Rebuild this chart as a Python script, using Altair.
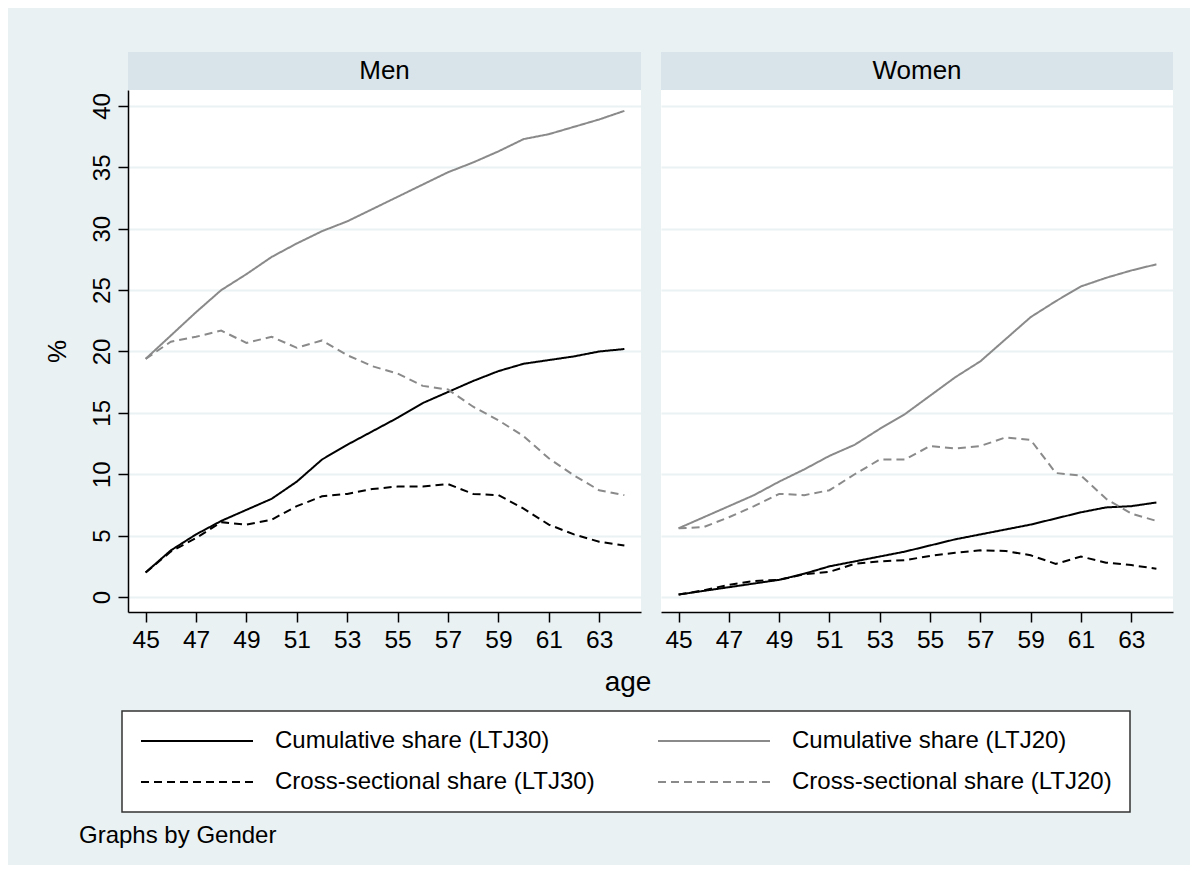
import altair as alt
import pandas as pd

FONT = "Liberation Sans"
BG = "#EAF1F3"
STRIP = "#D9E4EA"
GRID = "#EAF2F3"
GREY = "#8A8A8A"

ages = list(range(45, 65))
# legend fills column by column: first column LTJ30, second column LTJ20
series_names = [
    "Cumulative share (LTJ30)",
    "Cross-sectional share (LTJ30)",
    "Cumulative share (LTJ20)",
    "Cross-sectional share (LTJ20)",
]
series_colors = ["black", "black", GREY, GREY]
series_dashes = [[1, 0], [8, 5], [1, 0], [8, 5]]
genders = ["Men", "Women"]
x_ticks = [45, 47, 49, 51, 53, 55, 57, 59, 61, 63]
y_ticks = [0, 5, 10, 15, 20, 25, 30, 35, 40]

men_cum_ltj30 = [2.0, 3.8, 5.1, 6.2, 7.1, 8.0, 9.4, 11.2, 12.4, 13.5, 14.6, 15.8, 16.7, 17.6, 18.4, 19.0, 19.3, 19.6, 20.0, 20.2]
men_cum_ltj20 = [19.4, 21.3, 23.2, 25.0, 26.3, 27.7, 28.8, 29.8, 30.6, 31.6, 32.6, 33.6, 34.6, 35.4, 36.3, 37.3, 37.7, 38.3, 38.9, 39.6]
men_cross_ltj30 = [2.0, 3.7, 4.8, 6.1, 5.9, 6.3, 7.4, 8.2, 8.4, 8.8, 9.0, 9.0, 9.2, 8.4, 8.3, 7.2, 5.9, 5.1, 4.5, 4.2]
men_cross_ltj20 = [19.4, 20.8, 21.2, 21.7, 20.7, 21.2, 20.3, 20.9, 19.7, 18.8, 18.2, 17.2, 16.9, 15.5, 14.4, 13.1, 11.3, 9.9, 8.7, 8.3]

women_cum_ltj30 = [0.2, 0.5, 0.8, 1.1, 1.4, 1.9, 2.5, 2.9, 3.3, 3.7, 4.2, 4.7, 5.1, 5.5, 5.9, 6.4, 6.9, 7.3, 7.4, 7.7]
women_cum_ltj20 = [5.6, 6.5, 7.4, 8.3, 9.4, 10.4, 11.5, 12.4, 13.7, 14.9, 16.4, 17.9, 19.2, 21.0, 22.8, 24.1, 25.3, 26.0, 26.6, 27.1]
women_cross_ltj30 = [0.2, 0.55, 1.0, 1.3, 1.4, 1.85, 2.05, 2.7, 2.9, 3.0, 3.35, 3.6, 3.8, 3.75, 3.4, 2.7, 3.3, 2.8, 2.6, 2.3]
women_cross_ltj20 = [5.6, 5.7, 6.5, 7.4, 8.4, 8.3, 8.7, 10.0, 11.2, 11.2, 12.3, 12.1, 12.3, 13.0, 12.8, 10.1, 9.9, 8.0, 6.8, 6.2]

values = {
    "Men": [men_cum_ltj30, men_cross_ltj30, men_cum_ltj20, men_cross_ltj20],
    "Women": [women_cum_ltj30, women_cross_ltj30, women_cum_ltj20, women_cross_ltj20],
}

rows = []
for g in genders:
    for name, vals in zip(series_names, values[g]):
        for a, v in zip(ages, vals):
            rows.append({"gender": g, "age": a, "value": v, "series": name})
df = pd.DataFrame(rows)

color_scale = alt.Scale(domain=series_names, range=series_colors)
dash_scale = alt.Scale(domain=series_names, range=series_dashes)
x_scale = alt.Scale(domain=[44.3, 64.66], nice=False, zero=False)
y_scale = alt.Scale(domain=[-1.22, 41.3], nice=False, zero=False)

PLOT_H = 522
widths = {"Men": 513, "Women": 512}


def panel(g, first):
    w = widths[g]
    xaxis = alt.Axis(values=x_ticks, format="d", title=None, grid=False,
                     labelFont=FONT, labelFontSize=24.5, labelColor="black",
                     tickSize=10, tickColor="black", tickWidth=1.5,
                     domainColor="black", domainWidth=1.5, labelPadding=6,
                     labelFlush=False, labelOverlap=False)
    if first:
        yaxis = alt.Axis(values=y_ticks, title="%", grid=True, gridColor=GRID, gridWidth=2,
                         labelFont=FONT, labelFontSize=24, labelColor="black",
                         labelAngle=270, labelPadding=4, labelFlush=False,
                         tickSize=10, tickColor="black", tickWidth=1.5,
                         domainColor="black", domainWidth=1.5,
                         titleFont=FONT, titleFontSize=26, titleFontWeight="normal",
                         titleColor="black", titlePadding=20, minExtent=0)
    else:
        yaxis = alt.Axis(values=y_ticks, title=None, grid=True, gridColor=GRID, gridWidth=2,
                         labels=False, ticks=False, domain=False, minExtent=0, maxExtent=0)
    lines = alt.Chart(df[df.gender == g]).mark_line(strokeWidth=2).encode(
        x=alt.X("age:Q", scale=x_scale, axis=xaxis),
        y=alt.Y("value:Q", scale=y_scale, axis=yaxis),
        color=alt.Color("series:N", scale=color_scale, legend=alt.Legend(title=None)),
        strokeDash=alt.StrokeDash("series:N", scale=dash_scale, legend=alt.Legend(title=None)),
    ).properties(width=w, height=PLOT_H, view=alt.ViewBackground(fill="white", stroke=None))
    strip = alt.Chart(pd.DataFrame({"g": [g]})).mark_text(
        font=FONT, fontSize=26, color="black", baseline="alphabetic", align="center"
    ).encode(
        text="g:N", x=alt.value(w / 2), y=alt.value(26.5)
    ).properties(width=w, height=38, view=alt.ViewBackground(fill=STRIP, stroke=None))
    return alt.vconcat(strip, lines, spacing=0)


panels = alt.hconcat(panel("Men", True), panel("Women", False), spacing=20)

footer_texts = ["age", "Graphs by Gender"]
fdf = pd.DataFrame({"t": footer_texts})
age_txt = alt.Chart(fdf[fdf.t == "age"]).mark_text(
    font=FONT, fontSize=28, color="black", align="center", baseline="alphabetic"
).encode(text="t:N", x=alt.value(500), y=alt.value(38.5))
note_txt = alt.Chart(fdf[fdf.t == "Graphs by Gender"]).mark_text(
    font=FONT, fontSize=24, color="black", align="left", baseline="alphabetic"
).encode(text="t:N", x=alt.value(-49), y=alt.value(191))
footer = alt.layer(age_txt, note_txt).properties(
    width=1045, height=205, view=alt.ViewBackground(fill=None, stroke=None)
)

chart = alt.vconcat(panels, footer, spacing=0).properties(
    background=BG,
    padding={"left": 35, "top": 44, "right": 17, "bottom": 8},
).configure_legend(
    orient="none", legendX=-6, legendY=659, columns=2, columnPadding=62, rowPadding=17,
    symbolType="stroke", symbolSize=12544, symbolStrokeWidth=2, clipHeight=24,
    labelFont=FONT, labelFontSize=24, labelColor="black", labelOffset=21, labelLimit=0,
    padding=18, strokeColor="#333333", strokeWidth=1.5, fillColor="white",
).configure_view(stroke=None)

chart.save("out.html", embed_options={"renderer": "svg", "actions": False})
